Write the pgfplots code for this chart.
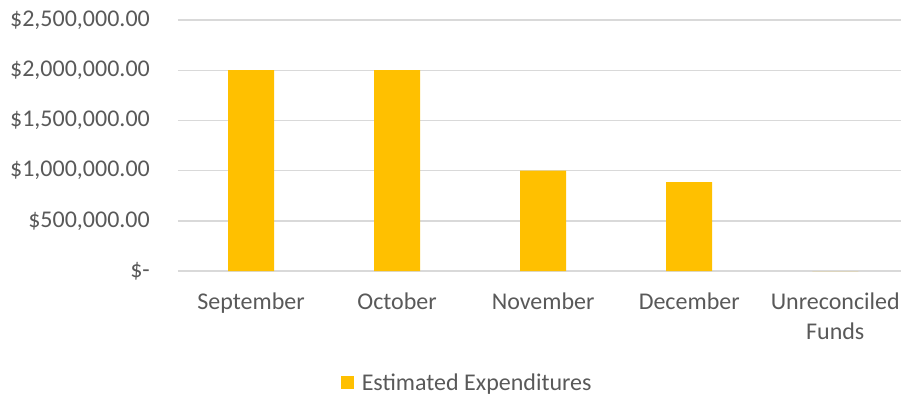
\documentclass[border=0pt]{standalone}
\usepackage{pgfplots}
\pgfplotsset{compat=1.18}
\usepackage{fontspec}
\setmainfont{Carlito}
\definecolor{barc}{HTML}{FFC000}
\definecolor{txtc}{HTML}{595959}
\definecolor{gridc}{HTML}{D9D9D9}
\begin{document}
\begin{tikzpicture}
\useasboundingbox (-178pt,-129pt) rectangle (723pt,271pt);
\begin{axis}[
  at={(0,0)}, anchor=south west,
  scale only axis,
  width=723pt, height=251pt,
  ybar, bar width=46pt,
  xmin=-0.5, xmax=4.45,
  ymin=0, ymax=2500000,
  scaled y ticks=false,
  ytick={0,500000,1000000,1500000,2000000,2500000},
  yticklabels={{\$-\hspace{0.4em}},{\$500,000.00},{\$1,000,000.00},{\$1,500,000.00},{\$2,000,000.00},{\$2,500,000.00}},
  xtick={0,1,2,3,4},
  xticklabels={September,October,November,December,{Unreconciled\\Funds}},
  axis line style={draw=none},
  major tick length=0pt,
  xmajorgrids=false,
  ymajorgrids=true,
  major grid style={draw=gridc, line width=1.4pt},
  tick label style={font=\fontsize{24}{29.5}\selectfont, text=txtc},
  yticklabel style={anchor=east, inner sep=0pt, xshift=-28pt},
  xticklabel style={anchor=north, inner sep=0pt, yshift=-22pt, align=center},
  legend style={at={(0.40,-0.446)}, anchor=center, draw=none, fill=none,
    font=\fontsize{24}{28}\selectfont, text=txtc, inner sep=0pt},
  legend image code/.code={\fill[barc] (0pt,-6.5pt) rectangle (13pt,6.5pt);},
  legend cell align=left,
]
\addplot[fill=barc, draw=none] coordinates {(0,2000000) (1,2000000) (2,1000000) (3,886000) (4,0)};
\addlegendentry{\hspace{6pt}Estimated Expenditures}
\end{axis}
\end{tikzpicture}
\end{document}
